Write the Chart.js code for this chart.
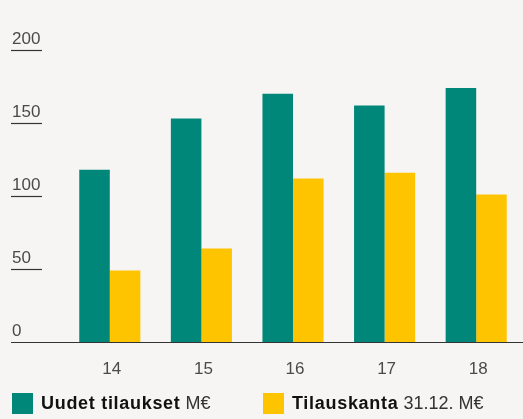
<!DOCTYPE html>
<html>
<head>
<meta charset="utf-8">
<script src="https://cdn.jsdelivr.net/npm/chart.js@4"></script>
<style>
  html, body { margin:0; padding:0; background:#f6f5f3; }
  #wrap { position:relative; width:523px; height:419px; overflow:hidden; }
  canvas { position:absolute; left:0; top:0; }
  .leg { position:absolute; top:392px; height:22px; font-family:"Liberation Sans", Arial, sans-serif; font-size:18px; line-height:22px; color:#333; white-space:nowrap; }
  .sw { position:absolute; top:1px; width:21px; height:21px; }
  .leg b { color:#111; letter-spacing:0.7px; }
</style>
</head>
<body>
<div id="wrap">
  <canvas id="c" width="523" height="419"></canvas>
  <div class="sw" style="left:12px; top:393px; background:#00877a;"></div>
  <div class="leg" style="left:41px;"><b>Uudet tilaukset</b> M€</div>
  <div class="sw" style="left:263px; top:393px; background:#ffc400;"></div>
  <div class="leg" style="left:292px;"><b>Tilauskanta</b> 31.12. M€</div>
</div>
<script>
const categories = ['14', '15', '16', '17', '18'];
const uudetTilaukset = [118, 153, 170, 162, 174];
const tilauskanta = [49, 64, 112, 116, 101];
const yTicks = [0, 50, 100, 150, 200];

const underlinePlugin = {
  id: 'underlines',
  afterDatasetsDraw(chart) {
    const ctx = chart.ctx;
    const y = chart.scales.y;
    ctx.save();
    ctx.strokeStyle = '#333';
    ctx.lineWidth = 1.2;
    yTicks.forEach(v => {
      const py = Math.round(y.getPixelForValue(v)) + 0.5;
      ctx.beginPath();
      if (v === 0) {
        ctx.moveTo(11, py);
        ctx.lineTo(chart.width, py);
      } else {
        ctx.moveTo(11, py);
        ctx.lineTo(42, py);
      }
      ctx.stroke();
    });
    ctx.restore();
  }
};

new Chart(document.getElementById('c'), {
  type: 'bar',
  data: {
    labels: categories,
    datasets: [
      { label: 'Uudet tilaukset M€', data: uudetTilaukset, backgroundColor: '#00877a', categoryPercentage: 0.667, barPercentage: 1.0 },
      { label: 'Tilauskanta 31.12. M€', data: tilauskanta, backgroundColor: '#ffc400', categoryPercentage: 0.667, barPercentage: 1.0 }
    ]
  },
  options: {
    responsive: false,
    devicePixelRatio: 1,
    animation: false,
    layout: { padding: { top: 50, left: 12, right: 1, bottom: 0 } },
    plugins: { legend: { display: false }, tooltip: { enabled: false } },
    scales: {
      x: {
        grid: { display: false, drawTicks: false },
        border: { display: false },
        ticks: { color: '#4a4a4a', font: { family: 'Liberation Sans', size: 17 }, padding: 17, labelOffset: 2 },
        afterFit(s) { s.height = 77; }
      },
      y: {
        min: 0, max: 200,
        afterBuildTicks(s) { s.ticks = yTicks.map(v => ({ value: v })); },
        grid: { display: false, drawTicks: false },
        border: { display: false },
        ticks: { color: '#4a4a4a', font: { family: 'Liberation Sans', size: 17 }, crossAlign: 'far', labelOffset: -11, padding: 0 },
        afterFit(s) { s.width = 52; }
      }
    }
  },
  plugins: [underlinePlugin]
});
</script>
</body>
</html>
